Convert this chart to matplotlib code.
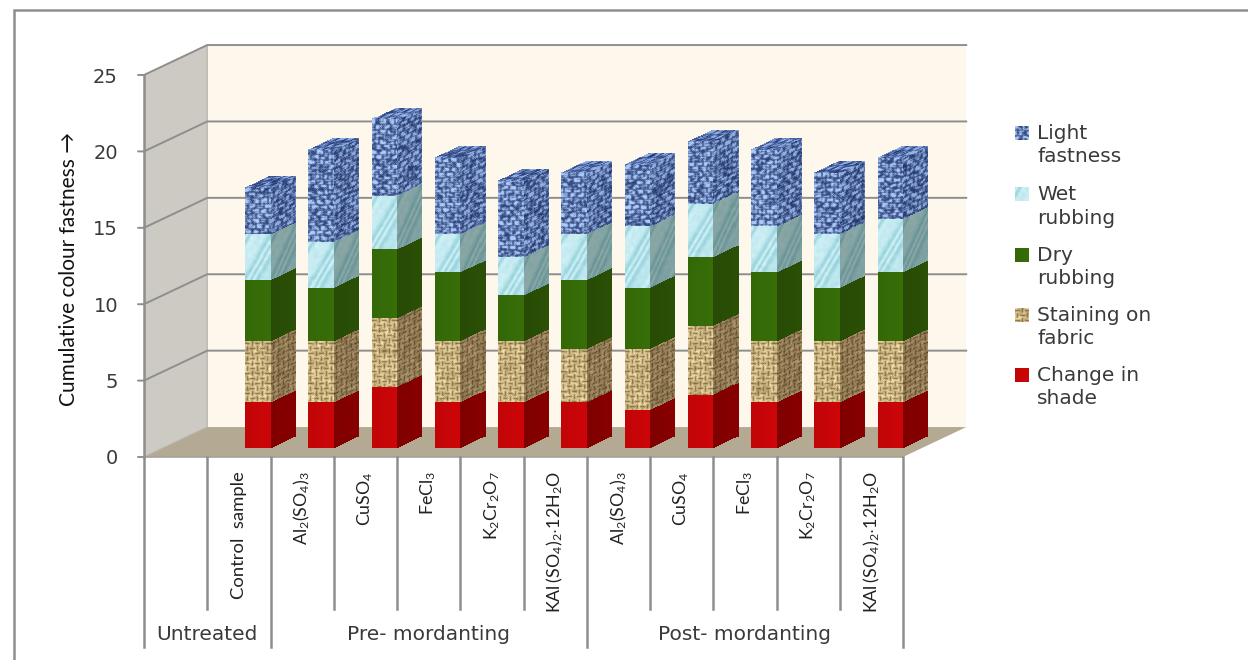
import matplotlib
matplotlib.use("Agg")
import matplotlib.pyplot as plt
import numpy as np
from matplotlib.patches import Polygon

plt.rcParams['font.family'] = ['DejaVu Sans']
plt.rcParams['mathtext.fontset'] = 'custom'
plt.rcParams['mathtext.rm'] = 'Lato'
plt.rcParams['mathtext.default'] = 'rm'

# fastness ratings, bottom of the stack first
samples = ["Control  sample", r"$Al_2(SO_4)_3$", r"$CuSO_4$", r"$FeCl_3$", r"$K_2Cr_2O_7$",
           r"$KAl\,(SO_4)_2{\cdot}12H_2O$", r"$Al_2(SO_4)_3$", r"$CuSO_4$", r"$FeCl_3$",
           r"$K_2Cr_2O_7$", r"$KAl\,(SO_4)_2{\cdot}12H_2O$"]
change_in_shade = [3, 3, 4, 3, 3, 3, 2.5, 3.5, 3, 3, 3]
staining = [4, 4, 4.5, 4, 4, 3.5, 4, 4.5, 4, 4, 4]
dry_rubbing = [4, 3.5, 4.5, 4.5, 3, 4.5, 4, 4.5, 4.5, 3.5, 4.5]
wet_rubbing = [3, 3, 3.5, 2.5, 2.5, 3, 4, 3.5, 3, 3.5, 3.5]
light_fastness = [3, 6, 5, 5, 5, 4, 4, 4, 5, 4, 4]
series = [change_in_shade, staining, dry_rubbing, wet_rubbing, light_fastness]
series_kinds = ["red", "tan", "green", "cyan", "blue"]
legend_names = ["Light\nfastness", "Wet\nrubbing", "Dry\nrubbing", "Staining on\nfabric", "Change in\nshade"]
groups = [("Untreated", 0, 2), ("Pre- mordanting", 2, 7), ("Post- mordanting", 7, 12)]
y_ticks = [0, 5, 10, 15, 20, 25]

GREY = "#8e8e8e"
TEXT = "#3a3a3a"
# one unit of depth on the sheared floor, in category and value units
DX = 1.0
DY = 1.96
BAR_W = 0.4
FRONT, REAR = 0.3, 0.7

rng = np.random.default_rng(4)


def smooth(a, n=1):
    for _ in range(n):
        a = (a + np.roll(a, 1, 0) + np.roll(a, 1, 1) + np.roll(a, -1, 0) + np.roll(a, -1, 1)) / 5
    return a


def blue_tex(h, w):
    # brick-like cloth, pale streaks on navy with thin mortar lines
    yy, xx = np.mgrid[0:h, 0:w]
    noise = rng.random((h, w))
    noise = (noise + np.roll(noise, 1, 1) + np.roll(noise, 2, 1)) / 3
    row = yy // 5
    brick = ((xx + row * 4) % 8 < 6) & (yy % 5 < 4)
    v = 0.14 + 0.75 * brick * (noise > 0.45) + 0.4 * (noise - 0.5)
    v = smooth(np.clip(v, 0, 1), 1)
    dark = np.array([0.15, 0.23, 0.45])
    light = np.array([0.68, 0.80, 0.98])
    return dark + np.clip(v * 1.2, 0, 1)[..., None] * (light - dark)


def cyan_tex(h, w):
    yy, xx = np.mgrid[0:h, 0:w]
    wave = np.sin(xx * 0.55 + yy * 0.32 + 3 * np.sin(yy * 0.12 + xx * 0.2))
    noise = smooth(rng.random((h, w)), 3)
    v = 0.5 + 0.28 * wave + 0.6 * (noise - 0.5)
    dark = np.array([0.55, 0.80, 0.85])
    light = np.array([0.86, 0.97, 0.98])
    return dark + np.clip(v, 0, 1)[..., None] * (light - dark)


def tan_tex(h, w):
    # basket weave of short straw strokes
    yy, xx = np.mgrid[0:h, 0:w]
    cell = ((xx // 5) + (yy // 5)) % 2 == 0
    line = np.where(cell, yy % 5 == 2, xx % 5 == 2)
    noise = smooth(rng.random((h, w)), 1)
    v = np.clip(0.8 - 0.95 * line - 1.0 * (noise - 0.5), 0, 1)
    dark = np.array([0.36, 0.27, 0.12])
    light = np.array([0.98, 0.90, 0.68])
    return dark + smooth(v, 1)[..., None] * (light - dark)


def flat_tex(color):
    def make(h, w):
        ramp = np.linspace(0.97, 1.03, w)[None, :, None]
        return np.clip(np.ones((h, w, 3)) * np.array(color) * ramp, 0, 1)
    return make


TEXTURES = {"red": flat_tex((0.78, 0.02, 0.03)), "green": flat_tex((0.21, 0.42, 0.03)),
            "tan": tan_tex, "cyan": cyan_tex, "blue": blue_tex}
SIDE_SHADE = {"red": (0.66, 0.0, 0.0), "green": (0.76, 0.72, 0.70), "tan": (0.72, 0.68, 0.65),
              "cyan": (0.68, 0.70, 0.68), "blue": (0.84, 0.86, 0.90)}


def face(ax, kind, origin, u, v, shade=(1, 1, 1), h=40, w=25):
    # lay a texture over the parallelogram origin, origin+u, origin+v as a mesh
    h, w = max(h, 3), max(w, 3)
    tex = np.clip(TEXTURES[kind](h, w) * np.array(shade), 0, 1)
    s, t = np.meshgrid(np.linspace(0, 1, w + 1), np.linspace(0, 1, h + 1))
    X = origin[0] + s * u[0] + t * v[0]
    Y = origin[1] + s * u[1] + t * v[1]
    ax.pcolormesh(X, Y, tex[::-1], shading="flat", zorder=4, clip_on=False, linewidth=0, antialiased=False)


fig = plt.figure(figsize=(12.48, 6.6), dpi=100)
ax = fig.add_axes([144 / 1248, (660 - 457) / 660, (903 - 144) / 1248, (457 - 75) / 660])
px_y = (457 - 75) / 25

# walls and floor
ax.add_patch(Polygon([(DX, DY), (12 + DX, DY), (12 + DX, 25 + DY), (DX, 25 + DY)], fc="#fdf7ec", ec="none", zorder=1, clip_on=False))
ax.add_patch(Polygon([(0, 0), (DX, DY), (DX, 25 + DY), (0, 25)], fc="#cdcac3", ec="none", zorder=1, clip_on=False))
ax.add_patch(Polygon([(0, 0), (12, 0), (12 + DX, DY), (DX, DY)], fc="#b4aa94", ec="none", zorder=1, clip_on=False))

# gridlines run along the side wall and across the back
for t in y_ticks[1:]:
    ax.plot([0, DX, 12 + DX], [t, t + DY, t + DY], color=GREY, lw=1.4, zorder=2, clip_on=False, solid_joinstyle="miter")
ax.plot([0, DX, DX], [0, DY, 25 + DY], color="#b5b2a8", lw=0.8, zorder=1.5, clip_on=False)

# stacked bars
depth = REAR - FRONT
for i in range(len(samples)):
    x0 = i + 1 + 0.5 - BAR_W / 2
    bottom = 0.0
    for vals, kind in zip(series, series_kinds):
        val = vals[i]
        hpx = int(val * px_y)
        # front face
        face(ax, kind, (x0 + FRONT * DX, bottom + FRONT * DY), (BAR_W, 0), (0, val), h=hpx, w=25)
        # right side face
        face(ax, kind, (x0 + BAR_W + FRONT * DX, bottom + FRONT * DY), (depth * DX, depth * DY), (0, val),
             shade=SIDE_SHADE[kind], h=hpx, w=25)
        bottom += val
    # top cap of the last series
    face(ax, "blue", (x0 + FRONT * DX, bottom + FRONT * DY), (BAR_W, 0), (depth * DX, depth * DY),
         shade=(0.85, 0.88, 0.95), h=12, w=25)

ax.set_xlim(0, 12)
ax.set_ylim(0, 25)
ax.axis("off")

# value axis
ax.plot([0, 0], [25, 0], color=GREY, lw=1.8, zorder=6, clip_on=False)
ax.plot([0, 12], [0, 0], color="#a5a299", lw=1.2, zorder=6, clip_on=False)
for t in y_ticks:
    ax.annotate("", xy=(0, t), xytext=(-6, 0), textcoords="offset pixels", xycoords="data",
                arrowprops=dict(arrowstyle="-", color=GREY, lw=1.4, shrinkA=0, shrinkB=0))
    ax.annotate(str(t), xy=(0, t), xytext=(-26, -2), textcoords="offset pixels", ha="right", va="center",
                fontsize=14, color=TEXT, annotation_clip=False)

# category table under the floor
trans = ax.get_xaxis_transform()
short = -(609 - 457) / (457 - 75)
long_ = -(647 - 457) / (457 - 75)
for e in range(13):
    is_group = e in (0, 2, 7, 12)
    ax.plot([e, e], [0, long_ if is_group else short], transform=trans, color=GREY, lw=1.8, clip_on=False, zorder=6)
for i, name in enumerate(samples):
    ax.text(i + 1.5, -(471 - 457) / (457 - 75), name, transform=trans, rotation=90, ha="center", va="top",
            fontsize=13.3 if i == 0 else 12.8, color="#222222", family=["Lato", "DejaVu Sans"])
for name, a, b in groups:
    ax.text((a + b) / 2, -(635 - 457) / (457 - 75), name, transform=trans, ha="center", va="center",
            fontsize=14.5, color=TEXT)

ax.text(-75 / ((903 - 144) / 12), 12.3, "Cumulative colour fastness \u2192", rotation=90, ha="center", va="center",
        fontsize=15, color="#111111", family=["Lato", "DejaVu Sans"], clip_on=False)

# overlay in pixel units for the outer frame and the legend
over = fig.add_axes([0, 0, 1, 1], facecolor="none")
over.axis("off")
over.plot([1248, 14, 14], [10, 10, 660], color=GREY, lw=1.8, clip_on=False, solid_joinstyle="miter")
legend_y = [133, 194, 255, 315, 375]
for name, kind, y in zip(legend_names, series_kinds[::-1], legend_y):
    tex = TEXTURES[kind](14, 14)
    over.imshow(tex, extent=(1015, 1029, y + 7, y - 7), aspect="auto", interpolation="bilinear")
    over.text(1037, y - 9, name, ha="left", va="top", fontsize=14.5, color=TEXT, linespacing=1.3)
over.set_xlim(0, 1248)
over.set_ylim(660, 0)

fig.savefig("out.png", dpi=100)
